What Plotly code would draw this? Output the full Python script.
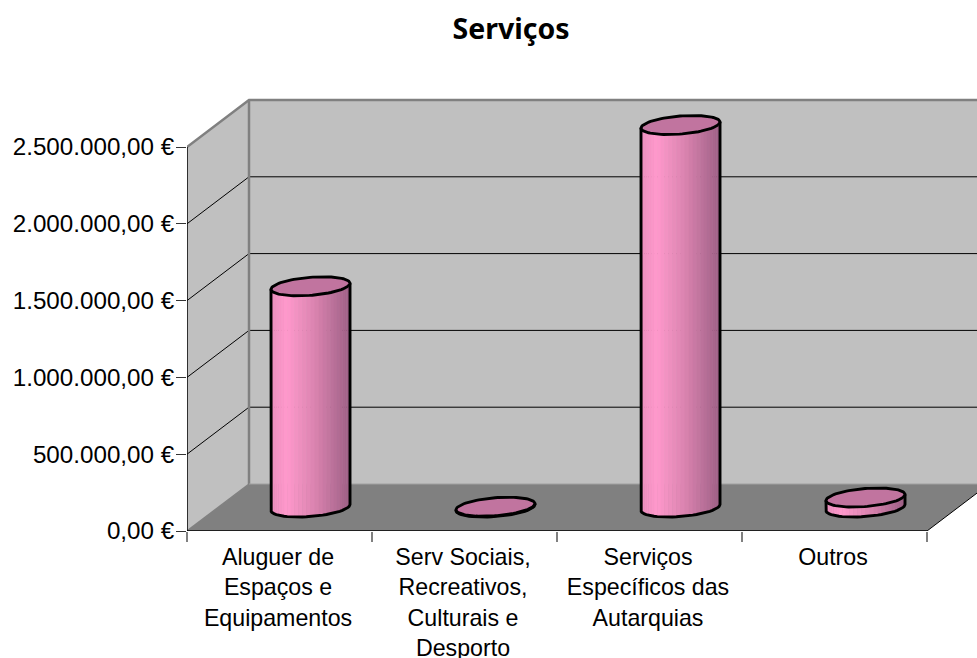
import numpy as np
import plotly.graph_objects as go

title = "Serviços"
categories = ["Aluguer de<br>Espaços e<br>Equipamentos",
              "Serv Sociais,<br>Recreativos,<br>Culturais e<br>Desporto",
              "Serviços<br>Específicos das<br>Autarquias",
              "Outros"]
values = [1440000, 5000, 2490000, 65000]
y_ticks = [0, 500000, 1000000, 1500000, 2000000, 2500000]
y_labels = ["0,00 €", "500.000,00 €", "1.000.000,00 €", "1.500.000,00 €",
            "2.000.000,00 €", "2.500.000,00 €"]

# Oblique projection: a unit of depth moves a point this far in data units
DEPTH_X = 62 / 185
DEPTH_Y = 47 / 384 * 2500000
BAR_SHARE = 0.405
N_STRIPS = 30
Y_TOP = y_ticks[-1]
X_END = len(categories)
X_MAX = 790 / 185
Y_MAX = (531 - 90) / 384 * 2500000


def proj(cat, val, depth):
    return cat + depth * DEPTH_X, val + depth * DEPTH_Y


def shade(f):
    stops_f = [0.0, 0.2, 0.55, 0.85, 1.0]
    r = np.interp(f, stops_f, [236, 255, 219, 178, 158])
    g = np.interp(f, stops_f, [142, 153, 132, 108, 94])
    b = np.interp(f, stops_f, [190, 204, 176, 148, 134])
    return f"rgb({r:.0f},{g:.0f},{b:.0f})"


fig = go.Figure()


def poly(pts, fill):
    xs, ys = zip(*pts)
    fig.add_trace(go.Scatter(x=xs, y=ys, mode="lines", fill="toself", fillcolor=fill,
                             line=dict(width=0), hoverinfo="skip", showlegend=False))


def seg(pts, color, width, clip=True):
    xs, ys = zip(*pts)
    fig.add_trace(go.Scatter(x=xs, y=ys, mode="lines", line=dict(color=color, width=width),
                             cliponaxis=clip, hoverinfo="skip", showlegend=False))


# Walls and floor
poly([proj(0, 0, 1), proj(X_END + 1, 0, 1), proj(X_END + 1, Y_TOP, 1), proj(0, Y_TOP, 1)], "#c0c0c0")
poly([proj(0, 0, 0), proj(0, 0, 1), proj(0, Y_TOP, 1), proj(0, Y_TOP, 0)], "#c0c0c0")
poly([proj(0, 0, 0), proj(X_END, 0, 0), proj(X_END, 0, 1), proj(0, 0, 1)], "#808080")

# Gridlines
for v in y_ticks[1:-1]:
    seg([proj(0, v, 0), proj(0, v, 1), proj(X_END + 1, v, 1)], "#000000", 1)
seg([proj(0, Y_TOP, 0), proj(0, Y_TOP, 1), proj(X_END + 1, Y_TOP, 1)], "#808080", 2.5)
seg([proj(0, 0, 1), proj(0, Y_TOP, 1)], "#808080", 2.5)
seg([proj(0, 0, 0), proj(0, 0, 1)], "#808080", 1.5)
seg([proj(0, 0, 1), proj(X_MAX + 1, 0, 1)], "#a0a0a0", 1)
seg([proj(X_END, 0, 0), proj(X_END, 0, 1)], "#000000", 1)
seg([proj(0, 0, 0), proj(0, Y_TOP, 0)], "#000000", 1.5, clip=False)
seg([proj(0, 0, 0), proj(X_END, 0, 0)], "#000000", 1.5, clip=False)

# Cylinders
R = BAR_SHARE / 2
DR = BAR_SHARE / 2


def rim(i, v, t):
    x, y = proj(i + 0.5, v, 0.5)
    return x + R * np.cos(t) + DR * DEPTH_X * np.sin(t), y + DR * DEPTH_Y * np.sin(t)


t_sil = np.arctan2(DR * DEPTH_X, R)  # rightmost point of the rim
for i, v in enumerate(values):
    ts = np.linspace(t_sil + np.pi, t_sil + 2 * np.pi, N_STRIPS + 1)
    xl, _ = rim(i, v, ts[0])
    xr, _ = rim(i, v, ts[-1])
    for a, b in zip(ts[:-1], ts[1:]):
        seg_t = np.linspace(a, b + 0.01, 3)
        x1, y1 = rim(i, v, seg_t)
        x0, y0 = rim(i, 0, seg_t)
        col = shade(((x1[1]) - xl) / (xr - xl))
        fig.add_trace(go.Scatter(x=np.r_[x1, x0[::-1]], y=np.r_[y1, y0[::-1]], mode="lines",
                                 fill="toself", fillcolor=col, line=dict(width=0.6, color=col),
                                 hoverinfo="skip", showlegend=False))
    # outline of the body
    xb, yb = rim(i, 0, ts)
    xt0, yt0 = rim(i, v, ts[0])
    xt1, yt1 = rim(i, v, ts[-1])
    fig.add_trace(go.Scatter(x=np.r_[xt0, xb, xt1], y=np.r_[yt0, yb, yt1], mode="lines",
                             line=dict(color="#000000", width=2.9),
                             hoverinfo="skip", showlegend=False))
    # top face
    tt = np.linspace(0, 2 * np.pi, 90)
    xe, ye = rim(i, v, tt)
    fig.add_trace(go.Scatter(x=xe, y=ye, mode="lines", fill="toself", fillcolor="#c1749f",
                             line=dict(color="#000000", width=2.9),
                             hoverinfo="skip", showlegend=False))

fig.update_layout(
    width=977, height=658, paper_bgcolor="#ffffff", plot_bgcolor="#ffffff",
    margin=dict(l=187, r=0, t=90, b=127), showlegend=False,
    font=dict(family="Liberation Sans, Arial, sans-serif", size=24, color="#000000"),
    title=dict(text=f"<b>{title}</b>", x=511 / 977, xanchor="center", y=1 - 29 / 658, yanchor="middle",
               font=dict(family="Noto Sans", size=28.5, color="#000000"), automargin=False),
    xaxis=dict(range=[0, X_MAX], showgrid=False, zeroline=False, showline=False, automargin=False,
               tickvals=[i + 0.492 for i in range(len(categories))], ticktext=categories,
               ticks="", tickangle=0, tickfont=dict(size=23.2), ticklabelstandoff=10,
               minor=dict(tickvals=list(range(len(categories) + 1)), ticks="outside", ticklen=10,
                          tickcolor="#808080", tickwidth=1.5, showgrid=False)),
    yaxis=dict(range=[0, Y_MAX], showgrid=False, zeroline=False, showline=False, automargin=False,
               tickvals=y_ticks, ticktext=y_labels, ticks="outside", ticklen=10,
               tickcolor="#333333", tickwidth=1, tickfont=dict(size=24.2), ticklabelstandoff=-3),
)

fig.write_html("out.html", config={"displayModeBar": False},
               post_script="document.body.style.margin='0';document.body.style.overflow='hidden';")
